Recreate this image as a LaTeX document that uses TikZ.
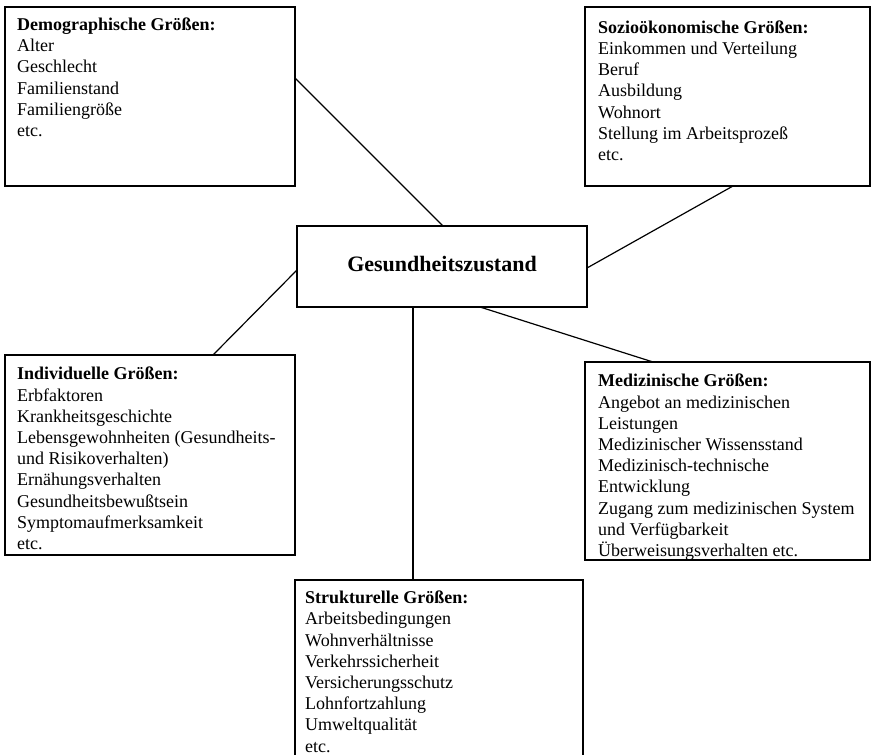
\documentclass[tikz,border=0pt]{standalone}
\usepackage{fontspec}
\setmainfont{Liberation Serif}
\begin{document}
\begin{tikzpicture}[x=1pt,y=-1pt,
  box/.style={draw, line width=1.2pt, rectangle, inner sep=0pt, outer sep=0pt, anchor=north west},
  boxtext/.style={anchor=base west, align=left, inner sep=0pt, font=\fontsize{18}{21.2}\selectfont},
  link/.style={line width=1.2pt}]
\clip (0,0) rectangle (871,755);
\fill[white] (0,0) rectangle (871,755);
% boxes
\node[box, minimum width=290pt, minimum height=179pt] (demo) at (5,7) {};
\node[box, minimum width=285pt, minimum height=179pt] (sozio) at (585,7) {};
\node[box, minimum width=290pt, minimum height=81pt] (center) at (297,226) {};
\node[box, minimum width=290pt, minimum height=200pt] (indiv) at (5,355) {};
\node[box, minimum width=285pt, minimum height=198pt] (medic) at (585,362) {};
\node[box, minimum width=288pt, minimum height=200pt] (struct) at (295,580) {};
% texts (anchored at the baseline of their last line)
\node[boxtext] (demotext) at (17,136.5) {\textbf{Demographische Größen:}\\Alter\\Geschlecht\\Familienstand\\Familiengröße\\etc.};
\node[boxtext] (soziotext) at (598,160.5) {\textbf{Sozioökonomische Größen:}\\Einkommen und Verteilung\\Beruf\\Ausbildung\\Wohnort\\Stellung im Arbeitsprozeß\\etc.};
\node[anchor=base, inner sep=0pt, font=\fontsize{22}{26}\selectfont\bfseries] (centertext) at (442,271) {Gesundheitszustand};
\node[boxtext] (indivtext) at (17,549.5) {\textbf{Individuelle Größen:}\\Erbfaktoren\\Krankheitsgeschichte\\Lebensgewohnheiten (Gesundheits-\\und Risikoverhalten)\\Ernähungsverhalten\\Gesundheitsbewußtsein\\Symptomaufmerksamkeit\\etc.};
\node[boxtext] (medictext) at (598,556.5) {\textbf{Medizinische Größen:}\\Angebot an medizinischen\\Leistungen\\Medizinischer Wissensstand\\Medizinisch-technische\\Entwicklung\\Zugang zum medizinischen System\\und Verfügbarkeit\\Überweisungsverhalten etc.};
\node[boxtext] (structtext) at (305,752) {\textbf{Strukturelle Größen:}\\Arbeitsbedingungen\\Wohnverhältnisse\\Verkehrssicherheit\\Versicherungsschutz\\Lohnfortzahlung\\Umweltqualität\\etc.};
% attachment points
\coordinate (demoR) at ([yshift=-71pt]demo.north east);
\coordinate (sozioB) at ([xshift=148pt]sozio.south west);
\coordinate (indivT) at ([xshift=208pt]indiv.north west);
\coordinate (medicT) at ([xshift=68pt]medic.north west);
\coordinate (structT) at ([xshift=118pt]struct.north west);
\coordinate (cT) at ([xshift=146pt]center.north west);
\coordinate (cR) at ([yshift=-42pt]center.north east);
\coordinate (cL) at ([yshift=-44pt]center.north west);
\coordinate (cB1) at ([xshift=116pt]center.south west);
\coordinate (cB2) at ([xshift=183pt]center.south west);
% connectors
\draw[link] (demoR) -- (cT);
\draw[link] (sozioB) -- (cR);
\draw[link] (indivT) -- (cL);
\draw[link] (medicT) -- (cB2);
\draw[link] (structT) -- (cB1);
\end{tikzpicture}
\end{document}
